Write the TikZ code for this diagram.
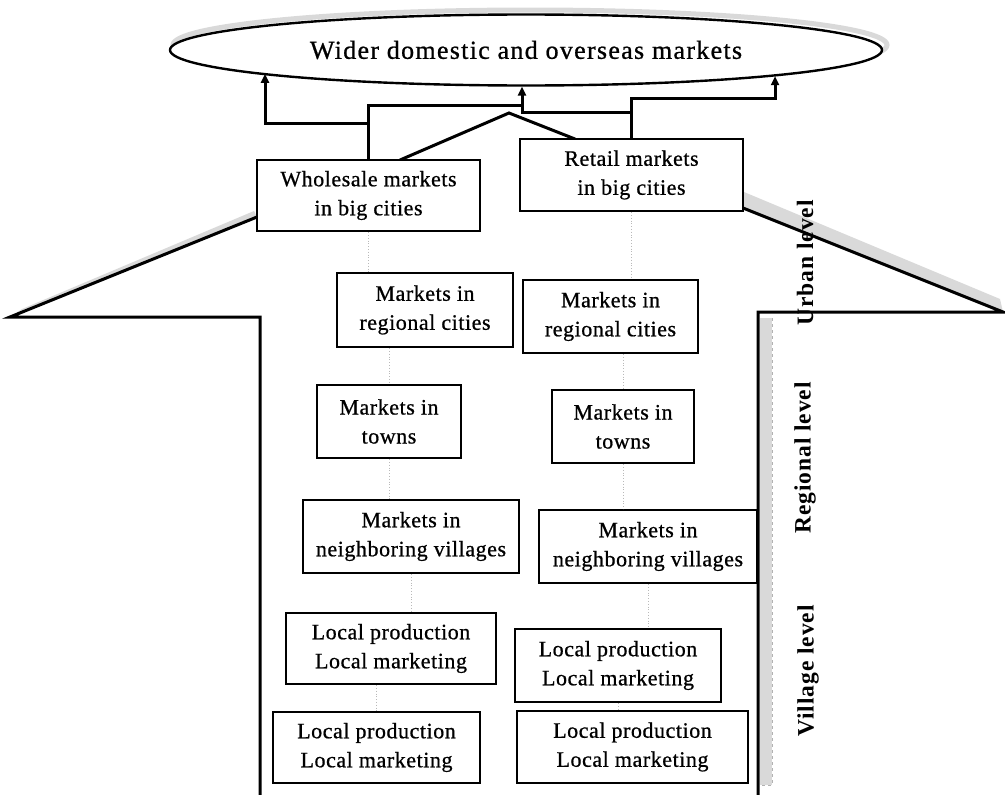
\documentclass[tikz,border=0pt]{standalone}
\usepackage{fontspec}
\setmainfont{Liberation Serif}
\newfontfamily\boxfont{Liberation Serif}[LetterSpace=2.5,FakeBold=0.7]
\newfontfamily\rimfont{Liberation Serif}[LetterSpace=5,FakeBold=0.8]
\newfontfamily\levelfont{Liberation Serif}[LetterSpace=4]
\usetikzlibrary{shapes.geometric,arrows.meta}

\begin{document}
\begin{tikzpicture}[x=1pt,y=-1pt,
  box/.style={draw, line width=2.2pt, fill=white, align=center, inner sep=0pt,
    font=\boxfont\fontsize{22}{29}\selectfont},
  wall/.style={line width=3pt, line join=miter, line cap=round},
  link/.style={line width=3pt, line join=miter},
  up/.style={link, -{Triangle[length=9pt,width=8pt]}},
  faint/.style={gray!55, line width=0.8pt, dotted},
  haze/.style={gray!30},
  level/.style={font=\levelfont\bfseries\fontsize{23.5}{28}\selectfont, rotate=90}
]
\useasboundingbox (0,0) rectangle (1005,795);

% soft shading along the edges of the roof and the right wall
\draw[haze, line width=5pt] (530,45) ellipse [x radius=357, y radius=35];
\fill[haze] (22,309) -- (254,211) -- (257,217) -- (10,317) -- cycle;
\fill[haze] (744,192) -- (1000,299) -- (1003,312) -- (743,208) -- cycle;
\fill[haze] (760,318) rectangle (772,785);
\draw[gray!60, line width=0.8pt, dashed] (772,318) -- (772,785) -- (760,785);

% the top market
\node[draw, ellipse, fill=white, line width=2.4pt, minimum width=712pt,
  minimum height=71pt, inner sep=0pt,
  font=\rimfont\fontsize{26}{30}\selectfont] (mkt) at (526,50)
  {Wider domestic and overseas markets};

% outline of the house
\draw[wall] (260,795) -- (260,317) -- (10,317) -- (257,217);
\draw[wall] (743,208) -- (1003,312) -- (758,312) -- (758,795);
\draw[wall] (400,160) -- (509,113) -- (575,139);

% market boxes
\node[box, minimum width=223pt, minimum height=71pt] (whole) at (368.5,195.5)
  {Wholesale markets\\in big cities};
\node[box, minimum width=223pt, minimum height=72pt] (retail) at (631.5,175)
  {Retail markets\\in big cities};
\node[box, minimum width=176pt, minimum height=74pt] (regL) at (425,310)
  {Markets in\\regional cities};
\node[box, minimum width=175pt, minimum height=73pt] (regR) at (610.5,316.5)
  {Markets in\\regional cities};
\node[box, minimum width=144pt, minimum height=73pt] (townL) at (389,421.5)
  {Markets in\\towns};
\node[box, minimum width=142pt, minimum height=73pt] (townR) at (623,426.5)
  {Markets in\\towns};
\node[box, minimum width=216pt, minimum height=73pt] (villL) at (411,536.5)
  {Markets in\\neighboring villages};
\node[box, minimum width=218pt, minimum height=73pt] (villR) at (648,546.5)
  {Markets in\\neighboring villages};
\node[box, minimum width=210pt, minimum height=71pt] (loc1) at (391,648.5)
  {Local production\\Local marketing};
\node[box, minimum width=206pt, minimum height=73pt] (loc2) at (618,665.5)
  {Local production\\Local marketing};
\node[box, minimum width=207pt, minimum height=71pt] (loc3) at (376.5,747.5)
  {Local production\\Local marketing};
\node[box, minimum width=231pt, minimum height=72pt] (loc4) at (632.5,747)
  {Local production\\Local marketing};

% flows up to the top market
\draw[link] (whole.north) |- (522,105);
\draw[up] (whole.north |- 0,123) -| (265,0 |- mkt.185);
\draw[up] (retail.north |- 0,112) -| (522,0 |- mkt.south);
\draw[up] (retail.north) |- (775,98) -- (775,0 |- mkt.354);

% faint links between the levels
\draw[faint] (whole.south) -- (whole.south |- regL.north);
\draw[faint] (retail.south) -- (retail.south |- regR.north);
\draw[faint] (townL.north |- regL.south) -- (townL.north);
\draw[faint] (townR.north |- regR.south) -- (townR.north);
\draw[faint] (townL.south) -- (townL.south |- villL.north);
\draw[faint] (townR.south) -- (townR.south |- villR.north);
\draw[faint] (villL.south) -- (villL.south |- loc1.north);
\draw[faint] (villR.south) -- (villR.south |- loc2.north);
\draw[faint] (loc3.north |- loc1.south) -- (loc3.north);
\draw[faint] (loc2.south) -- (loc2.south |- loc4.north);

% level labels
\node[level] (urban) at (805,263) {Urban level};
\node[level] (regional) at (805,458) {Regional level};
\node[level] (village) at (808,671) {Village level};
\end{tikzpicture}
\end{document}
